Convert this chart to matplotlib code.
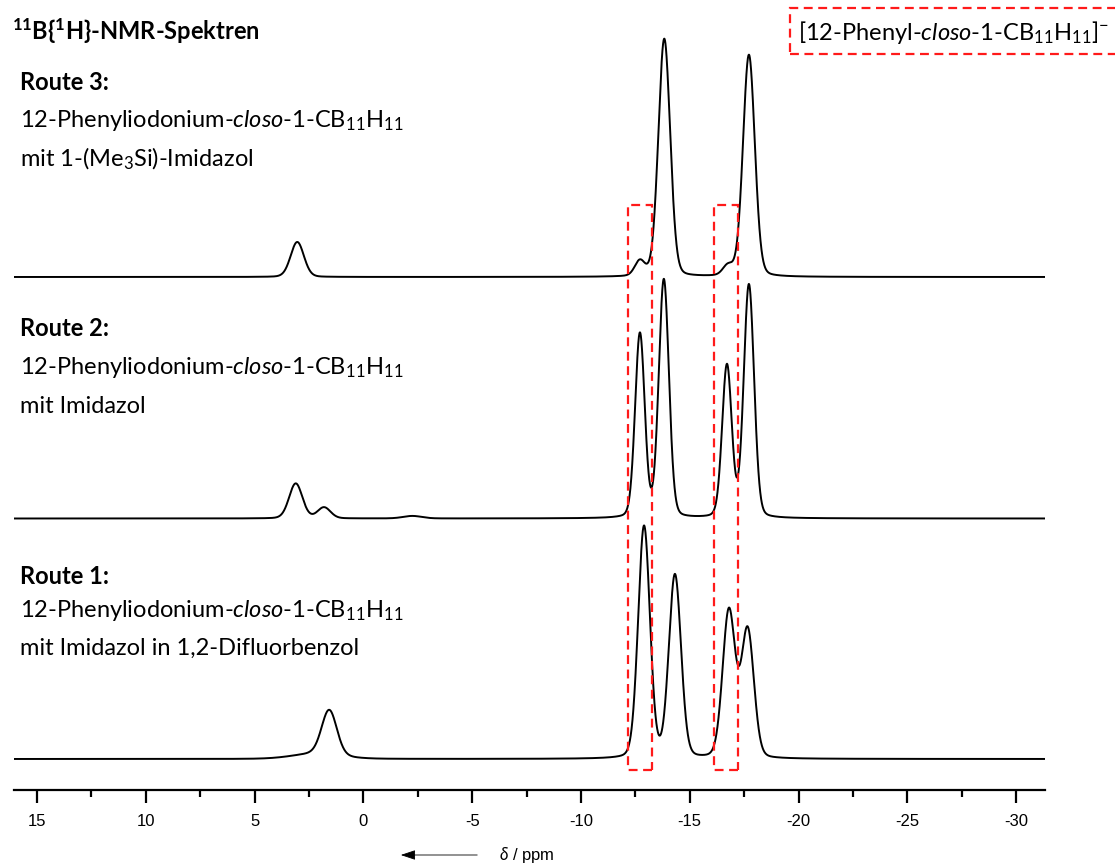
import numpy as np
import matplotlib
matplotlib.use("Agg")
import matplotlib.pyplot as plt
from matplotlib.patches import Rectangle, FancyArrowPatch

plt.rcParams['font.family'] = ['Lato', 'DejaVu Sans']
plt.rcParams['mathtext.fontset'] = 'custom'
plt.rcParams['mathtext.rm'] = 'Lato'
plt.rcParams['mathtext.it'] = 'Lato:italic'
plt.rcParams['mathtext.bf'] = 'Lato:bold'

# ---------------- data (peak tables) ----------------
# chemical shift (ppm), intensity (a.u.), line width FWHM (ppm)
route1_shift = [2.2, 1.57, -12.90, -14.32, -16.80, -17.66]
route1_height = [5, 45, 232, 183, 147, 128]
route1_fwhm = [2.5, 0.82, 0.64, 0.66, 0.68, 0.68]

route2_shift = [3.11, 1.81, -2.25, -12.71, -13.81, -16.71, -17.72]
route2_height = [35, 11, 2.5, 184, 238, 152, 233]
route2_fwhm = [0.72, 0.70, 1.0, 0.52, 0.55, 0.52, 0.56]

route3_shift = [3.04, -12.71, -13.83, -16.76, -17.72]
route3_height = [35, 15, 238, 10, 222]
route3_fwhm = [0.72, 0.55, 0.64, 0.55, 0.64]

xticks = [15, 10, 5, 0, -5, -10, -15, -20, -25, -30]
xtick_labels = ['15', '10', '5', '0', '-5', '-10', '-15', '-20', '-25', '-30']

route_titles = ['Route 3:', 'Route 2:', 'Route 1:']
route_line1 = [r'12-Phenyliodonium-$\mathit{closo}$-1-CB$_{11}$H$_{11}$'] * 3
route_line2 = [r'mit 1-(Me$_3$Si)-Imidazol', 'mit Imidazol',
               'mit Imidazol in 1,2-Difluorbenzol']
main_title = r'$^{\mathbf{11}}$B{$^{\mathbf{1}}$H}-NMR-Spektren'
legend_text = r'[12-Phenyl-$\mathit{closo}$-1-CB$_{11}$H$_{11}$]$^{-}$'
box_ranges = [(-12.14, -13.26), (-16.11, -17.21)]

# ---------------- helpers ----------------
W, H = 1115, 864
ETA = 0.14  # Lorentzian fraction of the pseudo-Voigt line shape


def spectrum(x, shifts, heights, fwhms):
    y = np.zeros_like(x)
    for c, h, w in zip(shifts, heights, fwhms):
        g = np.exp(-4 * np.log(2) * ((x - c) / w) ** 2)
        l = 1.0 / (1.0 + 4 * ((x - c) / w) ** 2)
        y += h * ((1 - ETA) * g + ETA * l)
    return y


def fx(px):
    return px / W


def fy(py):
    return 1 - py / H


fig = plt.figure(figsize=(W / 100, H / 100), dpi=100)
ax_bottom_px, ax_top_px = 790, 0
ax_left_px, ax_right_px = 14, 1045
ax = fig.add_axes([fx(ax_left_px), fy(ax_bottom_px),
                   (ax_right_px - ax_left_px) / W,
                   (ax_bottom_px - ax_top_px) / H])

x = np.linspace(16.1, -31.4, 8000)
offsets = [513, 271.5, 31]
tables = [(route3_shift, route3_height, route3_fwhm),
          (route2_shift, route2_height, route2_fwhm),
          (route1_shift, route1_height, route1_fwhm)]
for off, (s, h, w) in zip(offsets, tables):
    ax.plot(x, off + spectrum(x, s, h, w), color='black', lw=1.4)

for (a, b) in box_ranges:
    ax.add_patch(Rectangle((b, 20), a - b, 565, fill=False, edgecolor='#ff1a1a',
                           lw=1.6, ls=(0, (4, 2.5)), zorder=5))

ax.set_xlim(16.06, -31.33)
ax.set_ylim(0, 790)
for sp in ['left', 'right', 'top']:
    ax.spines[sp].set_visible(False)
ax.spines['bottom'].set_linewidth(1.6)
ax.set_yticks([])
ax.set_xticks(xticks)
ax.set_xticklabels(xtick_labels, fontfamily='Liberation Sans', fontsize=12)
ax.set_xticks(np.arange(12.5, -31, -5), minor=True)
ax.tick_params(axis='x', which='major', length=9, width=1.6, pad=8)
ax.tick_params(axis='x', which='minor', length=5, width=1.6)

# texts
FS = 17
fig.text(fx(12), fy(39), main_title, fontsize=FS, fontweight='bold')
text_rows = [(90, 127, 166), (336, 374, 413), (584, 617, 655)]
for t, l1, l2, (y0, y1, y2) in zip(route_titles, route_line1, route_line2, text_rows):
    fig.text(fx(20), fy(y0), t, fontsize=FS, fontweight='bold')
    fig.text(fx(20), fy(y1), l1, fontsize=FS)
    fig.text(fx(20), fy(y2), l2, fontsize=FS)

# legend-like dashed box at top right
fig.patches.append(Rectangle((fx(790), fy(54)), fx(1130) - fx(790), fy(8) - fy(54),
                             transform=fig.transFigure, fill=False,
                             edgecolor='#ff1a1a', lw=1.6, ls=(0, (4, 2.5))))
fig.text(fx(798), fy(40), legend_text, fontsize=FS)

# axis title with arrow
fig.add_artist(FancyArrowPatch(
    (fx(480), fy(855)), (fx(398), fy(855)), transform=fig.transFigure,
    arrowstyle='-|>,head_length=9,head_width=3', color='black', lw=0.6))
fig.text(fx(499), fy(860), r'$\mathit{\delta}$ / ppm', fontsize=12,
         fontfamily='Liberation Sans')

fig.savefig('out.png', dpi=100)
